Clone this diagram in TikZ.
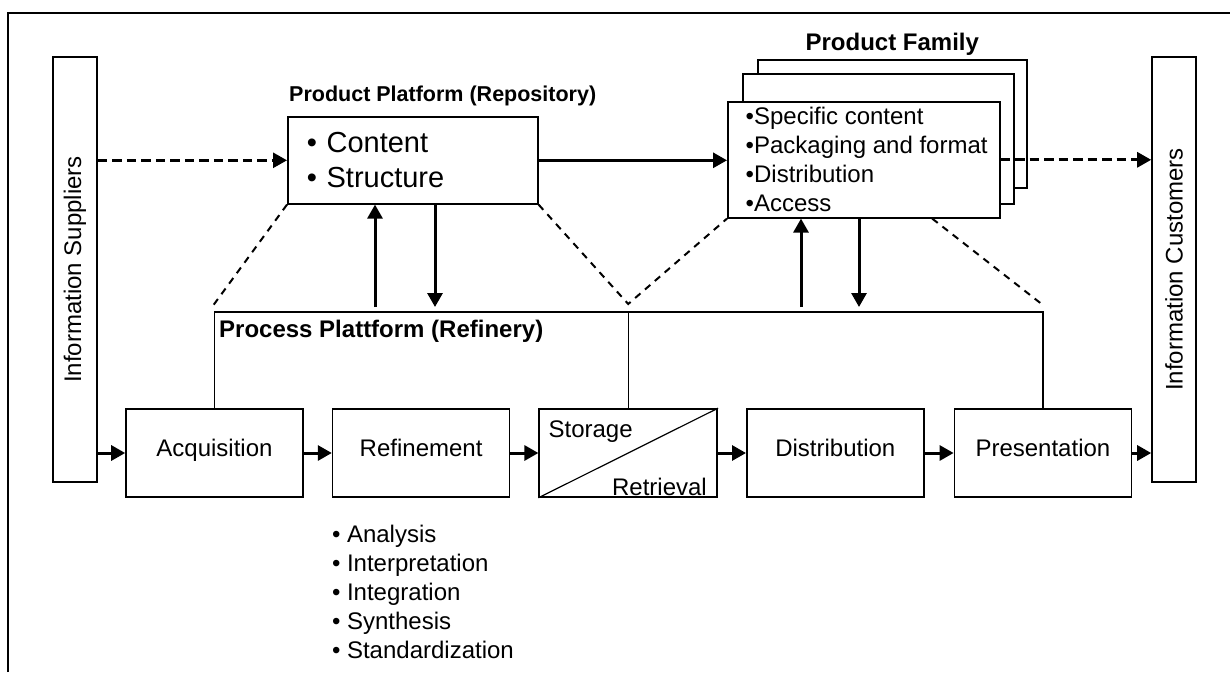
\documentclass[tikz,border=0pt]{standalone}
\usepackage{fontspec}
\setmainfont{Liberation Sans}
\usetikzlibrary{arrows.meta,calc,positioning}

\begin{document}
\begin{tikzpicture}[x=1pt, y=-1pt,
    box/.style={draw, line width=1.6pt, fill=white, inner sep=0pt, font=\fontsize{24}{29}\selectfont},
    stage/.style={box, minimum width=177pt, minimum height=88pt, text height=17pt, text depth=11pt},
    party/.style={box, minimum width=44pt, minimum height=425pt},
    arrow/.style={line width=3pt, -{Triangle[length=14pt,width=15pt]}},
    dasharrow/.style={arrow, line width=2.8pt, dash pattern=on 9.5pt off 5pt},
    dashline/.style={line width=2pt, dash pattern=on 7pt off 6pt},
    proc/.style={line width=1.4pt},
    title/.style={inner sep=0pt, font=\bfseries\fontsize{24}{29}\selectfont}]
  \useasboundingbox (0,0) rectangle (1230,672);
  \draw[line width=2.4pt] (8,672) -- (8,13) -- (1230,13);

  \node[party] (sup) at (75,269.5) {\rotatebox{90}{Information Suppliers}};
  \node[party] (cus) at (1174,269.5) {\rotatebox{90}{Information Customers}};

  \node[stage] (acq) at (214.5,453) {Acquisition};
  \node[stage, right=28pt of acq] (ref) {Refinement};
  \node[stage, right=28pt of ref, minimum width=178pt] (stor) {};
  \node[stage, right=28pt of stor] (dist) {Distribution};
  \node[stage, right=29pt of dist] (pres) {Presentation};
  \draw[line width=1.2pt] (stor.south west) -- (stor.north east);
  \node[anchor=base west, inner sep=0pt, font=\fontsize{24}{29}\selectfont] (sto) at ($(stor.north west)+(10,29)$) {Storage};
  \node[anchor=base east, inner sep=0pt, font=\fontsize{24}{29}\selectfont] (ret) at ($(stor.south east)+(-11,-2)$) {Retrieval};
  \node[anchor=north west, align=left, inner sep=0pt, font=\fontsize{24}{29}\selectfont] (refl) at ($(ref.south west)+(0,27)$)
    {\textbullet\ Analysis\\\textbullet\ Interpretation\\\textbullet\ Integration\\\textbullet\ Synthesis\\\textbullet\ Standardization};

  \node[box, anchor=north west, minimum width=250pt, minimum height=87pt, text width=212pt, align=left,
    font=\fontsize{29}{35}\selectfont] (pp) at (287,116) {\textbullet\ Content\\\textbullet\ Structure};
  \node[title, anchor=base west, font=\bfseries\fontsize{21.5}{26}\selectfont] (ppt) at ($(pp.north west)+(2,-15)$) {Product Platform (Repository)};

  \node[box, anchor=north west, minimum width=269pt, minimum height=128pt] (pf3) at (757,59) {};
  \node[box, anchor=north west, minimum width=271pt, minimum height=130pt] (pf2) at (742,73) {};
  \node[box, anchor=north west, minimum width=272pt, minimum height=116pt] (pf) at (727,101) {};
  \node[anchor=west, align=left, inner sep=0pt, font=\fontsize{24}{29}\selectfont] (pfl) at ($(pf.west)+(18.5,0)$)
    {\textbullet Specific content\\\textbullet Packaging and format\\\textbullet Distribution\\\textbullet Access};
  \node[title, anchor=base] (pft) at ($(pf3.north)+(0,-9)$) {Product Family};

  \coordinate (pl) at (0,312);
  \node[title, anchor=base west] (plt) at (219,337) {Process Plattform (Refinery)};
  \draw[proc] (acq.north) |- (pres.north |- pl) -- (pres.north);
  \draw[proc] (stor.north) -- (stor.north |- pl);

  \coordinate (apex) at ($(stor.north |- pl)+(0,-8)$);
  \coordinate (lft) at ($(acq.north |- pl)+(-1,-7)$);
  \coordinate (rgt) at ($(pres.north |- pl)+(0,-7)$);
  \draw[dashline] (pp.south west) -- (lft);
  \draw[dashline] (pp.south east) -- (apex) -- (pf.south west);
  \draw[dashline] ($(pf.south west)!0.75!(pf.south east)$) -- (rgt);

  \draw[dasharrow] (sup.east |- pp.west) -- (pp.west);
  \draw[arrow] (pp.east) -- (pf.west |- pp.east);
  \draw[dasharrow] (pf.east) -- (cus.west |- pf.east);

  \coordinate (up1) at (375,307);
  \coordinate (dn1) at (435,307);
  \coordinate (up2) at (801,307);
  \coordinate (dn2) at (859,307);
  \draw[arrow] (up1) -- (up1 |- pp.south);
  \draw[arrow] (dn1 |- pp.south) -- (dn1);
  \draw[arrow] (up2) -- (up2 |- pf.south);
  \draw[arrow] (dn2 |- pf.south) -- (dn2);

  \draw[arrow] (sup.east |- acq.west) -- (acq.west);
  \draw[arrow] (acq.east) -- (ref.west);
  \draw[arrow] (ref.east) -- (stor.west);
  \draw[arrow] (stor.east) -- (dist.west);
  \draw[arrow] (dist.east) -- (pres.west);
  \draw[arrow] (pres.east) -- (cus.west |- pres.east);
\end{tikzpicture}
\end{document}
